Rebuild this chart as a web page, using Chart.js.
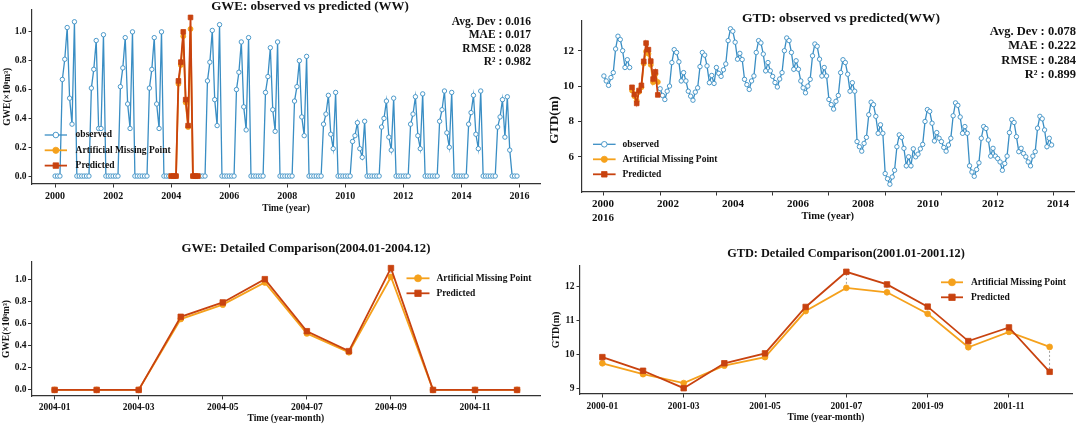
<!DOCTYPE html>
<html>
<head>
<meta charset="utf-8">
<script src="https://cdn.jsdelivr.net/npm/chart.js@4.4.1/dist/chart.umd.min.js"></script>
<style>
  html, body { margin: 0; padding: 0; background: #fff; }
  #wrap { position: relative; width: 1080px; height: 426px; overflow: hidden; background: #fff; }
  canvas { position: absolute; }
</style>
</head>
<body>
<div id="wrap">
  <canvas id="gweAll" width="545" height="220" style="left:0px;top:0px"></canvas>
  <canvas id="gtdAll" width="535" height="226" style="left:545px;top:0px"></canvas>
  <canvas id="gweZoom" width="545" height="198" style="left:0px;top:228px"></canvas>
  <canvas id="gtdZoom" width="535" height="198" style="left:545px;top:228px"></canvas>
</div>
<script>
// GWE (x10^8 m3), monthly 2000-01 .. 2015-12, 2004 held out
const gweObserved = [
  0, 0, 0, 0.67, 0.81, 1.03, 0.54, 0.36, 1.07, 0, 0, 0,
  0, 0, 0, 0.61, 0.74, 0.94, 0.33, 0.33, 0.98, 0, 0, 0,
  0, 0, 0, 0.62, 0.75, 0.96, 0.50, 0.33, 1.00, 0, 0, 0,
  0, 0, 0, 0.61, 0.74, 0.96, 0.50, 0.33, 1.00, 0, 0, 0,
  null, null, null, null, null, null, null, null, null, null, null, null,
  0, 0, 0, 0.66, 0.79, 1.01, 0.53, 0.35, 1.05, 0, 0, 0,
  0, 0, 0, 0.60, 0.72, 0.93, 0.48, 0.32, 0.96, 0, 0, 0,
  0, 0, 0, 0.58, 0.69, 0.89, 0.46, 0.31, 0.93, 0, 0, 0,
  0, 0, 0, 0.52, 0.62, 0.80, 0.41, 0.28, 0.83, 0, 0, 0,
  0, 0, 0, 0.36, 0.43, 0.56, 0.29, 0.19, 0.58, 0, 0, 0,
  0, 0, 0, 0.24, 0.28, 0.37, 0.19, 0.13, 0.38, 0, 0, 0,
  0, 0, 0, 0.34, 0.40, 0.52, 0.27, 0.18, 0.54, 0, 0, 0,
  0, 0, 0, 0.36, 0.43, 0.55, 0.28, 0.19, 0.57, 0, 0, 0,
  0, 0, 0, 0.38, 0.46, 0.59, 0.30, 0.20, 0.58, 0, 0, 0,
  0, 0, 0, 0.36, 0.44, 0.56, 0.29, 0.19, 0.59, 0, 0, 0,
  0, 0, 0, 0.34, 0.41, 0.53, 0.27, 0.55, 0.18, 0, 0, 0,
];
const gweArtificial = [0, 0, 0, 0.64, 0.77, 0.97, 0.51, 0.34, 1.02, 0, 0, 0];
const gwePredicted = [0, 0, 0, 0.66, 0.79, 1.00, 0.53, 0.35, 1.10, 0, 0, 0];

// GTD (m), monthly 2000-01 .. 2015-12, 2001 held out
const gtdObserved = [
  10.57, 10.29, 10.04, 10.48, 10.76, 12.10, 12.82, 12.63, 12.00, 11.05, 11.49, 11.05,
  null, null, null, null, null, null, null, null, null, null, null, null,
  9.85, 9.47, 9.24, 9.71, 10.00, 11.33, 12.06, 11.90, 11.37, 10.29, 10.76, 10.29,
  9.71, 9.43, 9.20, 9.66, 9.90, 11.10, 11.90, 11.75, 11.14, 10.19, 10.60, 10.15,
  11.05, 10.72, 10.55, 10.92, 11.25, 12.57, 13.24, 13.10, 12.48, 11.52, 11.85, 11.50,
  10.38, 10.08, 9.81, 10.29, 10.57, 11.90, 12.57, 12.44, 11.81, 10.86, 11.33, 10.86,
  10.55, 10.20, 9.95, 10.40, 10.76, 12.00, 12.72, 12.57, 11.90, 10.95, 11.43, 10.95,
  10.29, 9.90, 9.62, 10.00, 10.38, 11.71, 12.38, 12.25, 11.52, 10.57, 11.05, 10.57,
  9.24, 8.95, 8.70, 9.14, 9.47, 10.76, 11.49, 11.33, 10.67, 9.71, 10.19, 9.71,
  6.86, 6.57, 6.32, 6.76, 7.10, 8.38, 9.09, 8.95, 8.29, 7.33, 7.81, 7.33,
  5.05, 4.76, 4.45, 4.86, 5.24, 6.57, 7.24, 7.10, 6.48, 5.49, 6.00, 5.49,
  6.45, 6.00, 6.15, 6.45, 6.70, 8.00, 8.67, 8.57, 7.90, 6.90, 7.37, 7.05,
  6.86, 6.53, 6.32, 6.67, 7.05, 8.32, 9.05, 8.91, 8.25, 7.33, 7.71, 7.33,
  5.49, 5.14, 4.90, 5.28, 5.66, 7.05, 7.71, 7.60, 6.95, 6.04, 6.48, 6.04,
  5.90, 5.71, 5.24, 5.62, 6.04, 7.37, 8.10, 7.94, 7.14, 6.29, 6.48, 6.19,
  6.00, 5.71, 5.49, 6.04, 6.29, 7.62, 8.29, 8.15, 7.52, 6.57, 7.05, 6.67,
];
const gtdArtificial = [9.75, 9.43, 9.17, 9.68, 9.93, 11.28, 11.96, 11.83, 11.20, 10.22, 10.67, 10.23];
const gtdPredicted = [9.93, 9.53, 9.02, 9.75, 10.04, 11.40, 12.43, 12.06, 11.41, 10.40, 10.80, 9.50];

const firstYear = 2000;
const gweHeldYear = 2004;
const gtdHeldYear = 2001;

const yearTicks = [2000, 2002, 2004, 2006, 2008, 2010, 2012, 2014, 2016];
const gtdLabelYears = [2000, 2002, 2004, 2006, 2008, 2010, 2012, 2014];
const gtdYearLabels = [['2000', '2016'], '2002', '2004', '2006', '2008', '2010', '2012', '2014'];
const zoomTickMonths = [1, 3, 5, 7, 9, 11];
const gweZoomLabels = ['2004-01', '2004-03', '2004-05', '2004-07', '2004-09', '2004-11'];
const gtdZoomLabels = ['2000-01', '2001-03', '2001-05', '2001-07', '2001-09', '2001-11'];
const gweYTicks = [0, 0.2, 0.4, 0.6, 0.8, 1.0];
const gtdYTicks = [6, 8, 10, 12];
const gtdZoomYTicks = [9, 10, 11, 12];

const gweStats = ['Avg. Dev : 0.016', 'MAE : 0.017', 'RMSE : 0.028', 'R\u00B2 : 0.982'];
const gtdStats = ['Avg. Dev : 0.078', 'MAE : 0.222', 'RMSE : 0.284', 'R\u00B2 : 0.899'];

const BLUE = '#3a8ec4';
const ORANGE = '#f5a11c';
const RED = '#c8420f';
const AXIS = '#333333';
const INK = '#111111';
const FAMILY = '"Liberation Serif", "Times New Roman", serif';

Chart.defaults.font.family = FAMILY;
Chart.defaults.font.weight = 'bold';
Chart.defaults.color = INK;

function monthly(values, year) {
  return values.map((v, i) => ({ x: year + i / 12, y: v }));
}
function byMonth(values) {
  return values.map((v, i) => ({ x: i + 1, y: v }));
}
// matplotlib style: data range plus 5% each side
function padded(arrays) {
  const v = [].concat(...arrays).filter((d) => d !== null);
  const lo = Math.min(...v);
  const hi = Math.max(...v);
  const m = (hi - lo) * 0.05;
  return { min: lo - m, max: hi + m };
}

function observedSet(data) {
  return {
    label: 'observed', data: data, borderColor: BLUE, borderWidth: 1.3,
    pointStyle: 'circle', pointRadius: 2.2, pointBackgroundColor: '#ffffff',
    pointBorderColor: BLUE, pointBorderWidth: 0.9, tension: 0, order: 3,
  };
}
function artificialSet(data, r) {
  return {
    label: 'Artificial Missing Point', data: data, borderColor: ORANGE, borderWidth: 1.8,
    pointStyle: 'circle', pointRadius: r, pointBackgroundColor: ORANGE,
    pointBorderColor: ORANGE, pointBorderWidth: 0.8, tension: 0, order: 2,
  };
}
function predictedSet(data, r) {
  return {
    label: 'Predicted', data: data, borderColor: RED, borderWidth: 1.8,
    pointStyle: 'rect', pointRadius: r, pointBackgroundColor: RED,
    pointBorderColor: RED, pointBorderWidth: 0.8, tension: 0, order: 1,
  };
}

// text drawn straight onto the canvas: titles, metrics
const textPlugin = {
  id: 'texts',
  afterDraw(chart, args, opts) {
    const ctx = chart.ctx;
    (opts.items || []).forEach((t) => {
      ctx.save();
      ctx.font = 'bold ' + t.size + 'px ' + FAMILY;
      ctx.fillStyle = INK;
      ctx.textAlign = t.align || 'center';
      ctx.textBaseline = 'middle';
      ctx.translate(t.x, t.y);
      if (t.rotate) ctx.rotate(t.rotate);
      ctx.fillText(t.text, 0, 0);
      ctx.restore();
    });
  },
};

// legend with the line running through the marker
const lineLegend = {
  id: 'lineLegend',
  afterDraw(chart, args, opts) {
    const ctx = chart.ctx;
    opts.sets.forEach((idx, k) => {
      const ds = chart.data.datasets[idx];
      const y = opts.y + k * opts.gap;
      const cx = opts.x + opts.len / 2;
      ctx.save();
      ctx.strokeStyle = ds.borderColor;
      ctx.lineWidth = ds.borderWidth;
      ctx.beginPath();
      ctx.moveTo(opts.x, y);
      ctx.lineTo(opts.x + opts.len, y);
      ctx.stroke();
      ctx.fillStyle = ds.pointBackgroundColor;
      ctx.strokeStyle = ds.pointBorderColor;
      ctx.lineWidth = ds.pointBorderWidth;
      const r = ds.pointRadius + 0.6;
      ctx.beginPath();
      if (ds.pointStyle === 'rect') {
        const h = r * Math.SQRT1_2;
        ctx.rect(cx - h, y - h, 2 * h, 2 * h);
      } else {
        ctx.arc(cx, y, r, 0, Math.PI * 2);
      }
      ctx.fill();
      ctx.stroke();
      ctx.font = 'bold ' + opts.size + 'px ' + FAMILY;
      ctx.fillStyle = INK;
      ctx.textAlign = 'left';
      ctx.textBaseline = 'middle';
      ctx.fillText(ds.label, opts.textX, y);
      ctx.restore();
    });
  },
};

// thin dotted link between the true and predicted value of each month
const gapLines = {
  id: 'gapLines',
  beforeDatasetsDraw(chart, args, opts) {
    if (!opts.pair) return;
    const a = chart.getDatasetMeta(opts.pair[0]).data;
    const b = chart.getDatasetMeta(opts.pair[1]).data;
    const ctx = chart.ctx;
    ctx.save();
    ctx.strokeStyle = '#8a8a8a';
    ctx.lineWidth = 0.8;
    ctx.setLineDash([2, 2]);
    a.forEach((p, i) => {
      ctx.beginPath();
      ctx.moveTo(p.x, p.y);
      ctx.lineTo(b[i].x, b[i].y);
      ctx.stroke();
    });
    ctx.restore();
  },
};

function tickMarks() {
  return { display: true, drawOnChartArea: false, drawTicks: true, tickLength: 3.5, tickColor: AXIS, tickWidth: 1 };
}
function spine() {
  return { display: true, color: AXIS, width: 1.2 };
}
function yAxis(range, ticks, width, fontSize, pad, fmt, title) {
  return {
    type: 'linear', min: range.min, max: range.max,
    afterBuildTicks: (s) => { s.ticks = ticks.map((v) => ({ value: v })); },
    afterFit: (s) => { s.width = width; },
    border: spine(),
    grid: tickMarks(),
    ticks: { font: { size: fontSize, weight: 'bold' }, color: INK, padding: pad, callback: fmt },
    title: title,
  };
}
function xAxis(range, ticks, height, fontSize, pad, fmt, title) {
  return {
    type: 'linear', min: range.min, max: range.max,
    afterBuildTicks: (s) => { s.ticks = ticks.map((v) => ({ value: v })); },
    afterFit: (s) => { s.height = height; },
    border: spine(),
    grid: tickMarks(),
    ticks: { font: { size: fontSize, weight: 'bold' }, color: INK, padding: pad, maxRotation: 0, autoSkip: false, callback: fmt },
    title: title,
  };
}
function axisTitle(text, size, padding) {
  return { display: true, text: text, color: INK, font: { size: size, weight: 'bold' }, padding: padding };
}
function statItems(lines, x, y, step, size) {
  return lines.map((t, i) => ({ text: t, x: x, y: y + i * step, size: size, align: 'right' }));
}

const gweLabelX = 'GWE(\u00D710\u2078m\u00B3)';
const years = padded([monthly(gweObserved, firstYear).map((p) => p.x)]);
const months = padded([[1, 12]]);

// ---- GWE full series
new Chart(document.getElementById('gweAll'), {
  type: 'line',
  data: {
    datasets: [
      observedSet(monthly(gweObserved, firstYear)),
      artificialSet(monthly(gweArtificial, gweHeldYear), 2.5),
      predictedSet(monthly(gwePredicted, gweHeldYear), 3.3),
    ],
  },
  options: {
    responsive: false, animation: false, events: [],
    layout: { padding: { left: 0, top: 9.5, right: 1, bottom: 0 } },
    scales: {
      x: xAxis(years, yearTicks, 36, 10, 3, (v) => String(v), axisTitle('Time (year)', 9.5, { top: 0, bottom: 5.3 })),
      y: yAxis(padded([gweObserved, gweArtificial, gwePredicted]), gweYTicks, 32, 9.5, 2, (v) => v.toFixed(1),
        axisTitle(gweLabelX, 9.5, { top: 2.3, bottom: 0 })),
    },
    plugins: {
      legend: { display: false },
      tooltip: { enabled: false },
      texts: {
        items: [{ text: 'GWE: observed vs predicted (WW)', x: 310, y: 6.5, size: 13 }]
          .concat(statItems(gweStats, 531, 21.7, 13.5, 11.5)),
      },
      lineLegend: { sets: [0, 1, 2], x: 44.7, len: 22.3, textX: 75.6, y: 135, gap: 15.3, size: 9.5 },
    },
  },
  plugins: [textPlugin, lineLegend],
});

// ---- GTD full series
new Chart(document.getElementById('gtdAll'), {
  type: 'line',
  data: {
    datasets: [
      observedSet(monthly(gtdObserved, firstYear)),
      artificialSet(monthly(gtdArtificial, gtdHeldYear), 2.5),
      predictedSet(monthly(gtdPredicted, gtdHeldYear), 3.3),
    ],
  },
  options: {
    responsive: false, animation: false, events: [],
    layout: { padding: { left: 0, top: 21, right: 6, bottom: 0 } },
    scales: {
      x: Object.assign(xAxis(years, yearTicks, 4, 11, 0, (v) => String(v), { display: false }), {
        ticks: { display: false },
      }),
      // printed year labels sit on their own, wider spacing than the tick marks
      xl: {
        type: 'linear', position: 'bottom', weight: 1, min: 1999.34, max: 2014.49,
        afterBuildTicks: (s) => { s.ticks = gtdLabelYears.map((v) => ({ value: v })); },
        afterFit: (s) => { s.height = 30; },
        border: { display: false },
        grid: { display: false, drawTicks: false },
        ticks: { font: { size: 11, weight: 'bold' }, color: INK, padding: 2, maxRotation: 0, autoSkip: false,
          callback: (v, i) => gtdYearLabels[i] },
        title: axisTitle('Time (year)', 10.5, { top: 0, bottom: 3.7 }),
      },
      y: yAxis(padded([gtdObserved, gtdArtificial, gtdPredicted]), gtdYTicks, 36.5, 11, 4, (v) => String(v), { display: false }),
    },
    plugins: {
      legend: { display: false },
      tooltip: { enabled: false },
      texts: {
        items: [
          { text: 'GTD: observed vs predicted(WW)', x: 296, y: 18.3, size: 13.5 },
          { text: 'GTD(m)', x: 10, y: 120, size: 13, rotate: -Math.PI / 2 },
        ].concat(statItems(gtdStats, 531, 31.5, 14.4, 12.5)),
      },
      lineLegend: { sets: [0, 1, 2], x: 48, len: 22.6, textX: 77.5, y: 144.3, gap: 15, size: 9.5 },
    },
  },
  plugins: [textPlugin, lineLegend],
});

// ---- GWE held-out year
new Chart(document.getElementById('gweZoom'), {
  type: 'line',
  data: {
    datasets: [
      artificialSet(byMonth(gweArtificial), 2.9),
      predictedSet(byMonth(gwePredicted), 3.9),
    ],
  },
  options: {
    responsive: false, animation: false, events: [],
    layout: { padding: { left: 0, top: 34, right: 1.5, bottom: 0 } },
    scales: {
      x: xAxis(months, zoomTickMonths, 30, 9.5, 2.5, (v, i) => gweZoomLabels[i],
        axisTitle('Time (year-month)', 9.5, { top: 0, bottom: 1.3 })),
      y: yAxis(padded([gweArtificial, gwePredicted]), gweYTicks, 31.5, 9.5, 1.5, (v) => v.toFixed(1),
        axisTitle(gweLabelX, 9.5, { top: 1.3, bottom: 0 })),
    },
    plugins: {
      legend: { display: false },
      tooltip: { enabled: false },
      texts: { items: [{ text: 'GWE: Detailed Comparison(2004.01-2004.12)', x: 306, y: 21, size: 12.7 }] },
      lineLegend: { sets: [0, 1], x: 406.5, len: 23, textX: 436.4, y: 50.3, gap: 15, size: 9.5 },
      gapLines: { pair: [0, 1] },
    },
  },
  plugins: [gapLines, textPlugin, lineLegend],
});

// ---- GTD held-out year
new Chart(document.getElementById('gtdZoom'), {
  type: 'line',
  data: {
    datasets: [
      artificialSet(byMonth(gtdArtificial), 2.9),
      predictedSet(byMonth(gtdPredicted), 3.9),
    ],
  },
  options: {
    responsive: false, animation: false, events: [],
    layout: { padding: { left: 0, top: 38, right: 8, bottom: 0 } },
    scales: {
      x: xAxis(months, zoomTickMonths, 32, 9.5, 3.5, (v, i) => gtdZoomLabels[i],
        axisTitle('Time (year-month)', 9.5, { top: 0, bottom: 3 })),
      y: yAxis(padded([gtdArtificial, gtdPredicted]), gtdZoomYTicks, 35, 9.5, 2, (v) => String(v),
        axisTitle('GTD(m)', 10, { top: 5.5, bottom: 0 })),
    },
    plugins: {
      legend: { display: false },
      tooltip: { enabled: false },
      texts: { items: [{ text: 'GTD: Detailed Comparison(2001.01-2001.12)', x: 301, y: 26.3, size: 12.3 }] },
      lineLegend: { sets: [0, 1], x: 396, len: 22, textX: 426, y: 54.3, gap: 15, size: 9.5 },
      gapLines: { pair: [0, 1] },
    },
  },
  plugins: [gapLines, textPlugin, lineLegend],
});
</script>
</body>
</html>
